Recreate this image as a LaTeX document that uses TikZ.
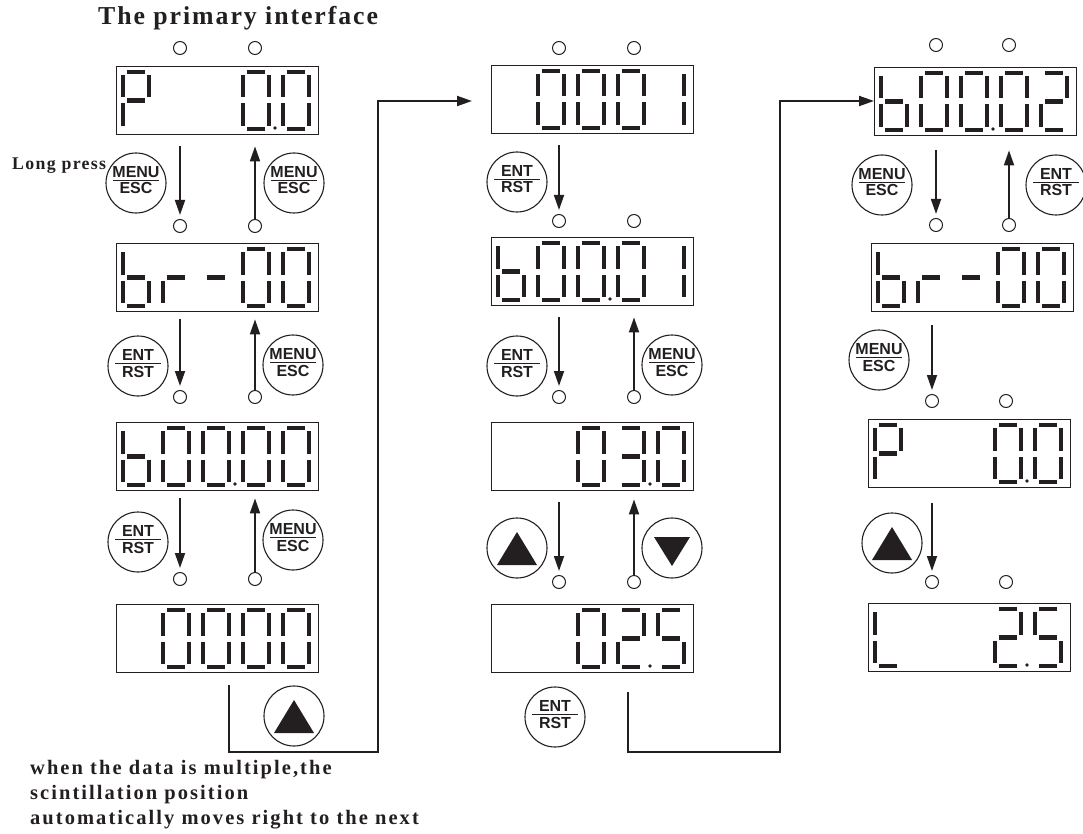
\documentclass[tikz,border=0pt]{standalone}
\usepackage{fontspec}
\setmainfont{Liberation Serif}
\newfontfamily\btnfont{Liberation Sans}
\newfontfamily\lsfont[LetterSpace=7.5]{Liberation Serif}
\newfontfamily\lsfontb[LetterSpace=10]{Liberation Serif}
\usetikzlibrary{arrows.meta,calc}
\definecolor{ink}{HTML}{231F20}
\tikzset{
 dbox/.style={draw=ink, line width=1.4pt, minimum width=202pt, minimum height=68pt, inner sep=0, anchor=north west},
 seg/.style={line width=4.4pt, draw=ink},
 ledc/.style={circle, draw=ink, line width=1pt, minimum size=13pt, inner sep=0},
 arr/.style={draw=ink, line width=1.8pt, -{Triangle[length=15pt,width=10pt]}},
 conn/.style={draw=ink, line width=2pt},
 btn/.style={circle, draw=ink, line width=1.1pt, minimum size=60pt, inner sep=0},
 btxt/.style={font=\btnfont\bfseries\fontsize{16}{16}\selectfont, inner sep=0, text=ink, anchor=base},
 txt/.style={text=ink, inner sep=0, anchor=base west},
}
\newcommand\segA[2]{\draw[seg] (#1+4,#2) -- (#1+22,#2);}
\newcommand\segB[2]{\draw[seg] (#1+26,#2+3) -- (#1+26,#2+25.5);}
\newcommand\segC[2]{\draw[seg] (#1+26,#2+31.5) -- (#1+26,#2+54);}
\newcommand\segD[2]{\draw[seg] (#1+4,#2+57) -- (#1+22,#2+57);}
\newcommand\segE[2]{\draw[seg] (#1,#2+31.5) -- (#1,#2+54);}
\newcommand\segF[2]{\draw[seg] (#1,#2+3) -- (#1,#2+25.5);}
\newcommand\segG[2]{\draw[seg] (#1+4,#2+28.5) -- (#1+22,#2+28.5);}
\def\Dz{A,B,C,D,E,F}
\def\Do{B,C}
\def\Dt{A,B,G,E,D}
\def\Dth{A,B,G,C,D}
\def\Df{A,F,G,C,D}
\def\Db{F,E,G,C,D}
\def\Dr{E,G}
\def\Dm{G}
\def\DP{A,B,F,G,E}
\def\DL{F,E,D}
\newcommand\dg[4]{\pgfmathsetmacro\dgx{#1+7+40*(#3-1)}\pgfmathsetmacro\dgy{#2+6}%
 \foreach \s in #4 {\csname seg\s\endcsname{\dgx}{\dgy}}}
\newcommand\dpt[3]{\pgfmathsetmacro\dgx{#1+7+40*(#3-1)+32}\fill[ink] (\dgx,#2+62) circle (1.8pt);}
\newcommand\btn[4]{\node[btn] (#1) at (#2) {};
 \draw[ink, line width=1.2pt] ($(#1.center)+(-23,-2.5)$) -- ($(#1.center)+(23,-2.5)$);
 \node[btxt] (#1t) at ($(#1.center)+(0,-5.5)$) {#3};
 \node[btxt] (#1b) at ($(#1.center)+(0,11)$) {#4};}
\newcommand\ubtn[2]{\node[btn] (#1) at (#2) {};
 \fill[ink] ($(#1.center)+(-20,17)$) -- ($(#1.center)+(20,17)$) -- ($(#1.center)+(0,-16)$) -- cycle;}
\newcommand\dbtn[2]{\node[btn] (#1) at (#2) {};
 \fill[ink] ($(#1.center)+(-18,-11)$) -- ($(#1.center)+(18,-11)$) -- ($(#1.center)+(0,18)$) -- cycle;}
\begin{document}
\begin{tikzpicture}[x=1pt,y=-1pt]
\useasboundingbox (0,0) rectangle (1083,834);
\node[txt, font=\lsfont\bfseries\fontsize{25.8}{25.8}\selectfont] (title) at (98,25) {The primary interface};
\node[txt, font=\lsfont\bfseries\fontsize{17.8}{17.8}\selectfont] (lp) at (12,170) {Long press};
% ---------- column 1
\node[dbox] (d1) at (116,66) {};
\dg{116}{66}{1}{\DP}\dg{116}{66}{4}{\Dz}\dpt{116}{66}{4}\dg{116}{66}{5}{\Dz}
\node[ledc] (d1a) at (180,48) {}; \node[ledc] (d1b) at (255,48) {};
\node[dbox] (d2) at (116,243) {};
\dg{116}{243}{1}{\Db}\dg{116}{243}{2}{\Dr}\dg{116}{243}{3}{\Dm}\dg{116}{243}{4}{\Dz}\dg{116}{243}{5}{\Dz}
\node[ledc] (d2a) at (180,226) {}; \node[ledc] (d2b) at (255,226) {};
\node[dbox] (d3) at (116,422) {};
\dg{116}{422}{1}{\Db}\dg{116}{422}{2}{\Dz}\dg{116}{422}{3}{\Dz}\dpt{116}{422}{3}\dg{116}{422}{4}{\Dz}\dg{116}{422}{5}{\Dz}
\node[ledc] (d3a) at (180,397) {}; \node[ledc] (d3b) at (255,397) {};
\node[dbox] (d4) at (116,604) {};
\dg{116}{604}{2}{\Dz}\dg{116}{604}{3}{\Dz}\dg{116}{604}{4}{\Dz}\dg{116}{604}{5}{\Dz}
\node[ledc] (d4a) at (180,579) {}; \node[ledc] (d4b) at (255,579) {};
\draw[arr, shorten >=4pt] ($(d1.south -| d2a)+(0,11)$) -- (d2a.north);
\draw[arr] (d2b.north) -- ($(d1.south -| d2b)+(0,11)$);
\draw[arr, shorten >=4pt] ($(d2.south -| d3a)+(0,7)$) -- (d3a.north);
\draw[arr] (d3b.north) -- ($(d2.south -| d3b)+(0,7)$);
\draw[arr, shorten >=4pt] ($(d3.south -| d4a)+(0,7)$) -- (d4a.north);
\draw[arr] (d4b.north) -- ($(d3.south -| d4b)+(0,7)$);
\btn{b1}{136,183}{MENU}{ESC}
\btn{b2}{294,183}{MENU}{ESC}
\btn{b3}{138,366}{ENT}{RST}
\btn{b4}{293,365}{MENU}{ESC}
\btn{b5}{138,542}{ENT}{RST}
\btn{b6}{293,540}{MENU}{ESC}
\ubtn{b7}{294,716}
% ---------- column 2
\node[dbox] (e1) at (491,65) {};
\dg{491}{65}{2}{\Dz}\dg{491}{65}{3}{\Dz}\dg{491}{65}{4}{\Dz}\dg{491}{65}{5}{\Do}
\node[ledc] (e1a) at (559,48) {}; \node[ledc] (e1b) at (634,48) {};
\node[dbox] (e2) at (491,237) {};
\dg{491}{237}{1}{\Db}\dg{491}{237}{2}{\Dz}\dg{491}{237}{3}{\Dz}\dpt{491}{237}{3}\dg{491}{237}{4}{\Dz}\dg{491}{237}{5}{\Do}
\node[ledc] (e2a) at (559,221) {}; \node[ledc] (e2b) at (634,221) {};
\node[dbox] (e3) at (491,422) {};
\dg{491}{422}{3}{\Dz}\dg{491}{422}{4}{\Dth}\dpt{491}{422}{4}\dg{491}{422}{5}{\Dz}
\node[ledc] (e3a) at (559,397) {}; \node[ledc] (e3b) at (634,397) {};
\node[dbox] (e4) at (491,604) {};
\dg{491}{604}{3}{\Dz}\dg{491}{604}{4}{\Dt}\dpt{491}{604}{4}\dg{491}{604}{5}{\Df}
\node[ledc] (e4a) at (559,582) {}; \node[ledc] (e4b) at (634,582) {};
\draw[arr, shorten >=4pt] ($(e1.south -| e2a)+(0,11)$) -- (e2a.north);
\draw[arr, shorten >=4pt] ($(e2.south -| e3a)+(0,11)$) -- (e3a.north);
\draw[arr] (e3b.north) -- ($(e2.south -| e3b)+(0,11)$);
\draw[arr, shorten >=4pt] ($(e3.south -| e4a)+(0,11)$) -- (e4a.north);
\draw[arr] (e4b.north) -- ($(e3.south -| e4b)+(0,8)$);
\btn{c1}{517,182}{ENT}{RST}
\btn{c2}{517,366}{ENT}{RST}
\btn{c3}{672,365}{MENU}{ESC}
\ubtn{c4}{517,548}
\dbtn{c5}{672,548}
\btn{c6}{555,717}{ENT}{RST}
% ---------- column 3
\node[dbox] (f1) at (874,67) {};
\dg{874}{67}{1}{\Db}\dg{874}{67}{2}{\Dz}\dg{874}{67}{3}{\Dz}\dpt{874}{67}{3}\dg{874}{67}{4}{\Dz}\dg{874}{67}{5}{\Dt}
\node[ledc] (f1a) at (936,45) {}; \node[ledc] (f1b) at (1009,45) {};
\node[dbox] (f2) at (871,243) {};
\dg{871}{243}{1}{\Db}\dg{871}{243}{2}{\Dr}\dg{871}{243}{3}{\Dm}\dg{871}{243}{4}{\Dz}\dg{871}{243}{5}{\Dz}
\node[ledc] (f2a) at (936,225) {}; \node[ledc] (f2b) at (1009,225) {};
\node[dbox] (f3) at (868,419) {};
\dg{868}{419}{1}{\DP}\dg{868}{419}{4}{\Dz}\dpt{868}{419}{4}\dg{868}{419}{5}{\Dz}
\node[ledc] (f3a) at (932,401) {}; \node[ledc] (f3b) at (1006,401) {};
\node[dbox] (f4) at (868,603) {};
\dg{868}{603}{1}{\DL}\dg{868}{603}{4}{\Dt}\dpt{868}{603}{4}\dg{868}{603}{5}{\Df}
\node[ledc] (f4a) at (932,582) {}; \node[ledc] (f4b) at (1006,582) {};
\draw[arr, shorten >=4pt] ($(f1.south -| f2a)+(0,14)$) -- (f2a.north);
\draw[arr] (f2b.north) -- ($(f1.south -| f2b)+(0,14)$);
\draw[arr, shorten >=4pt] ($(f2.south -| f3a)+(0,13)$) -- (f3a.north);
\draw[arr, shorten >=4pt] ($(f3.south -| f4a)+(0,15)$) -- (f4a.north);
\btn{g1}{882,185}{MENU}{ESC}
\btn{g2}{1056,185}{ENT}{RST}
\btn{g3}{879,360}{MENU}{ESC}
\ubtn{g4}{892,543}
% ---------- long connectors
\coordinate (k1) at (229,685);
\coordinate (k2) at (628,692);
\draw[conn, -{Triangle[length=15pt,width=10pt]}] (k1) -- (229,752) -- (378,752) -- (378,101) -- ($(e1.west |- 0,101)+(-19,0)$);
\draw[conn, -{Triangle[length=15pt,width=10pt]}] (k2) -- (628,752) -- (780,752) -- (780,101) -- (f1.west |- 0,101);
% ---------- note
\node[txt, font=\lsfontb\bfseries\fontsize{20.5}{20.5}\selectfont] (n1) at (30,774) {when the data is multiple,the};
\node[txt, font=\lsfontb\bfseries\fontsize{20.5}{20.5}\selectfont] (n2) at (30,799) {scintillation position};
\node[txt, font=\lsfontb\bfseries\fontsize{20.5}{20.5}\selectfont] (n3) at (30,824) {automatically moves right to the next};
\end{tikzpicture}
\end{document}
